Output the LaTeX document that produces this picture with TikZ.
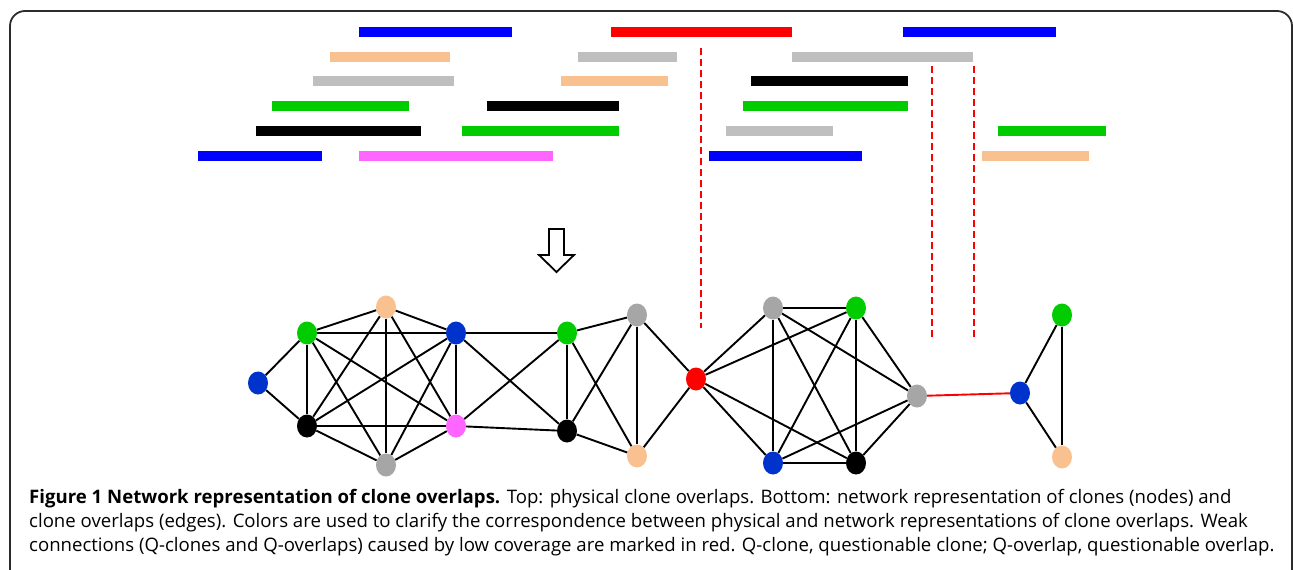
\documentclass[tikz,border=0pt]{standalone}
\usepackage{fontspec}
\setmainfont{Open Sans}
\usetikzlibrary{shapes.geometric}
\definecolor{barblue}{HTML}{0000FF}
\definecolor{nodeblue}{HTML}{0033CC}
\definecolor{peach}{HTML}{F9C18F}
\definecolor{bargray}{HTML}{BFBFBF}
\definecolor{nodegray}{HTML}{A6A6A6}
\definecolor{cgreen}{HTML}{00CC00}
\definecolor{cmagenta}{HTML}{FF66FF}
\definecolor{cred}{HTML}{FF0000}
\definecolor{framegray}{HTML}{2B2B2B}

\begin{document}
\begin{tikzpicture}
[every node/.style={inner sep=0pt},
 clone/.style={ellipse, minimum width=20pt, minimum height=23pt, draw=none},
 bar/.style={line width=9.5pt},
 edge/.style={line width=1.9pt, color=black},
 weak/.style={line width=1.9pt, color=cred},
 cut/.style={line width=1.9pt, color=cred, dash pattern=on 7pt off 4pt},
 caption/.style={anchor=base west, font=\fontsize{18.6}{24}\selectfont}]
\useasboundingbox (0pt, 0pt) rectangle (1293pt, -570pt);
\draw [line width=1.8pt, color=framegray, rounded corners=15pt] (10pt, -580pt) -- (10pt, -11pt) -- (1292pt, -11pt) -- (1292pt, -580pt);
% physical clone overlaps
\draw [bar, color=barblue] (359pt, -32pt) -- (512pt, -32pt);
\draw [bar, color=cred] (611pt, -32pt) -- (792pt, -32pt);
\draw [bar, color=barblue] (903pt, -32pt) -- (1056pt, -32pt);
\draw [bar, color=peach] (330pt, -57pt) -- (450pt, -57pt);
\draw [bar, color=bargray] (578pt, -57pt) -- (677pt, -57pt);
\draw [bar, color=bargray] (792pt, -57pt) -- (973pt, -57pt);
\draw [bar, color=bargray] (313pt, -81pt) -- (454pt, -81pt);
\draw [bar, color=peach] (561pt, -81pt) -- (668pt, -81pt);
\draw [bar, color=black] (751pt, -81pt) -- (908pt, -81pt);
\draw [bar, color=cgreen] (272pt, -106pt) -- (409pt, -106pt);
\draw [bar, color=black] (487pt, -106pt) -- (619pt, -106pt);
\draw [bar, color=cgreen] (743pt, -106pt) -- (908pt, -106pt);
\draw [bar, color=black] (256pt, -131pt) -- (421pt, -131pt);
\draw [bar, color=cgreen] (462pt, -131pt) -- (619pt, -131pt);
\draw [bar, color=bargray] (726pt, -131pt) -- (833pt, -131pt);
\draw [bar, color=cgreen] (998pt, -131pt) -- (1106pt, -131pt);
\draw [bar, color=barblue] (198pt, -156pt) -- (322pt, -156pt);
\draw [bar, color=cmagenta] (359pt, -156pt) -- (553pt, -156pt);
\draw [bar, color=barblue] (709pt, -156pt) -- (862pt, -156pt);
\draw [bar, color=peach] (982pt, -156pt) -- (1089pt, -156pt);
\draw [cut] (701pt, -48pt) -- (701pt, -328pt);
\draw [cut] (932pt, -66pt) -- (932pt, -337pt);
\draw [cut] (974pt, -66pt) -- (974pt, -337pt);
% hollow arrow
\draw [line width=1.8pt, line join=miter] (549pt, -229pt) -- (564pt, -229pt) -- (564pt, -255pt) -- (574pt, -255pt) -- (556.5pt, -272pt) -- (539pt, -255pt) -- (549pt, -255pt) -- cycle;
% network of clones
\node (blue1) [clone, fill=nodeblue] at (258pt, -383pt) {};
\node (green1) [clone, fill=cgreen] at (307pt, -333pt) {};
\node (peach1) [clone, fill=peach] at (386pt, -307pt) {};
\node (blue2) [clone, fill=nodeblue] at (456pt, -333pt) {};
\node (black1) [clone, fill=black] at (307pt, -426pt) {};
\node (gray1) [clone, fill=nodegray] at (386pt, -465pt) {};
\node (magenta1) [clone, fill=cmagenta] at (456pt, -426pt) {};
\node (green2) [clone, fill=cgreen] at (567pt, -333pt) {};
\node (black2) [clone, fill=black] at (567pt, -431pt) {};
\node (gray2) [clone, fill=nodegray] at (637pt, -315pt) {};
\node (peach2) [clone, fill=peach] at (637pt, -456pt) {};
\node (red1) [clone, fill=cred] at (696pt, -379pt) {};
\node (gray3) [clone, fill=nodegray] at (773pt, -308pt) {};
\node (green3) [clone, fill=cgreen] at (856pt, -308pt) {};
\node (blue3) [clone, fill=nodeblue] at (773pt, -463pt) {};
\node (black3) [clone, fill=black] at (856pt, -463pt) {};
\node (gray4) [clone, fill=nodegray] at (917pt, -396pt) {};
\node (blue4) [clone, fill=nodeblue] at (1020pt, -393pt) {};
\node (green4) [clone, fill=cgreen] at (1062pt, -315pt) {};
\node (peach4) [clone, fill=peach] at (1062pt, -457pt) {};
\draw [edge] (blue1) to (green1);
\draw [edge] (blue1) to (black1);
\draw [edge] (green1) to (peach1);
\draw [edge] (green1) to (blue2);
\draw [edge] (green1) to (black1);
\draw [edge] (green1) to (gray1);
\draw [edge] (green1) to (magenta1);
\draw [edge] (peach1) to (blue2);
\draw [edge] (peach1) to (black1);
\draw [edge] (peach1) to (gray1);
\draw [edge] (peach1) to (magenta1);
\draw [edge] (blue2) to (black1);
\draw [edge] (blue2) to (gray1);
\draw [edge] (blue2) to (magenta1);
\draw [edge] (black1) to (magenta1);
\draw [edge] (black1) to (gray1);
\draw [edge] (gray1) to (magenta1);
\draw [edge] (blue2) to (green2);
\draw [edge] (blue2) to (black2);
\draw [edge] (magenta1) to (green2);
\draw [edge] (magenta1) to (black2);
\draw [edge] (green2) to (black2);
\draw [edge] (green2) to (gray2);
\draw [edge] (green2) to (peach2);
\draw [edge] (black2) to (gray2);
\draw [edge] (black2) to (peach2);
\draw [edge] (gray2) to (peach2);
\draw [edge] (gray2) to (red1);
\draw [edge] (peach2) to (red1);
\draw [edge] (red1) to (gray3);
\draw [edge] (red1) to (green3);
\draw [edge] (red1) to (blue3);
\draw [edge] (red1) to (black3);
\draw [edge] (gray3) to (green3);
\draw [edge] (gray3) to (blue3);
\draw [edge] (gray3) to (black3);
\draw [edge] (gray3) to (gray4);
\draw [edge] (green3) to (blue3);
\draw [edge] (green3) to (black3);
\draw [edge] (green3) to (gray4);
\draw [edge] (blue3) to (black3);
\draw [edge] (blue3) to (gray4);
\draw [edge] (black3) to (gray4);
\draw [weak] (gray4) to (blue4);
\draw [edge] (blue4) to (green4);
\draw [edge] (blue4) to (peach4);
\draw [edge] (green4) to (peach4);
% caption
\node (cap1) [caption] at (29pt, -503pt) {\textbf{Figure 1 Network representation of clone overlaps.} Top: physical clone overlaps. Bottom: network representation of clones (nodes) and};
\node (cap2) [caption] at (29pt, -527pt) {clone overlaps (edges). Colors are used to clarify the correspondence between physical and network representations of clone overlaps. Weak};
\node (cap3) [caption] at (29pt, -551pt) {connections (Q-clones and Q-overlaps) caused by low coverage are marked in red. Q-clone, questionable clone; Q-overlap, questionable overlap.};
\end{tikzpicture}
\end{document}
